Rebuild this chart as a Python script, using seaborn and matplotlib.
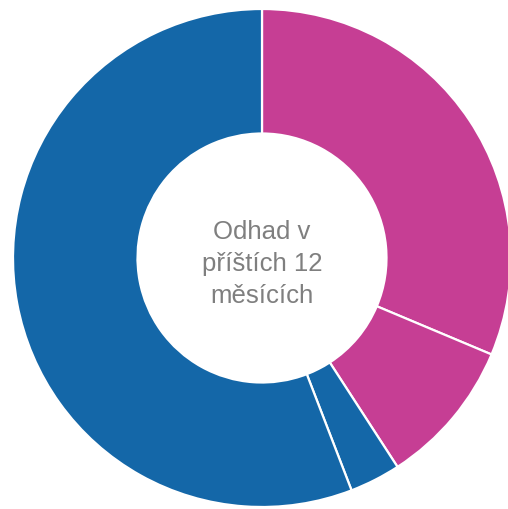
import matplotlib
matplotlib.use('Agg')
import matplotlib.pyplot as plt
import seaborn as sns

# podíly segmentů, po směru hodinových ručiček od 12:00
podily = [31.3, 9.5, 3.3, 55.8]
barvy = ['#C63E94', '#C63E94', '#1467A8', '#1467A8']
popisek = 'Odhad v\npříštích 12\nměsících'

sns.set_theme(style='white')
plt.rcParams['font.family'] = ['Liberation Sans', 'DejaVu Sans']

fig = plt.figure(figsize=(5.08, 5.09), dpi=100)
ax = fig.add_axes([0, 0, 1, 1])

R = 249
cx, cy = 262, 258
ax.pie(podily, colors=barvy, startangle=90, counterclock=False, radius=1,
       wedgeprops=dict(width=0.5, edgecolor='white', linewidth=1.6))
ax.set_xlim(-cx / R, (508 - cx) / R)
ax.set_ylim(-(509 - cy) / R, cy / R)
ax.set_aspect('equal')
ax.axis('off')

ax.text(0, -0.025, popisek, ha='center', va='center', fontsize=18.5,
        color='#7F7F7F', linespacing=1.42)

fig.savefig('out.png', dpi=100)
